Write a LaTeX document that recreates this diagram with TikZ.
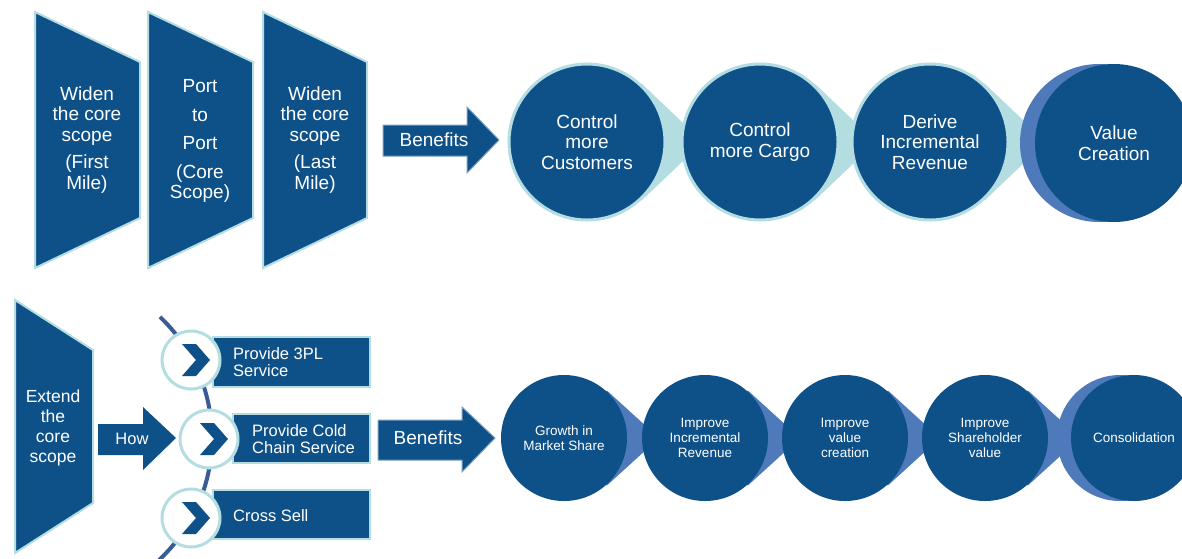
\documentclass[tikz,border=0pt]{standalone}
\usepackage{fontspec}
\setmainfont{Liberation Sans}
\definecolor{dblue}{RGB}{14,81,137}
\definecolor{lcyan}{RGB}{180,221,226}
\definecolor{mblue}{RGB}{78,122,188}
\definecolor{arcblue}{RGB}{58,92,150}
\tikzset{
  plate/.style={fill=dblue, draw=lcyan, line width=2pt},
  flow/.style={fill=dblue, draw=dblue!55!white, line width=1pt},
  big/.style={text=white, align=center, font=\fontsize{19}{20.5}\selectfont},
  topc/.style={circle, fill=dblue, draw=lcyan, line width=3pt, minimum size=156pt, inner sep=0pt, big},
  lowc/.style={circle, fill=dblue, minimum size=126pt, inner sep=0pt, text=white, align=center, font=\fontsize{13.5}{15}\selectfont},
  svc/.style={text=white, align=left, anchor=west, inner sep=0pt, font=\fontsize{16.5}{17}\selectfont},
  ring/.style={circle, fill=white, draw=lcyan, line width=3pt, minimum size=58pt, inner sep=0pt},
}
\begin{document}
\begin{tikzpicture}[x=1pt,y=-1pt]
\useasboundingbox (0,0) rectangle (1182,558);
%scope plates
\foreach \l/\r in {35/140,148/253,263/367}
  \draw[plate] (\l,12) -- (\r,62) -- (\r,218) -- (\l,268) -- cycle;
\node[big] (first) at (87,140) {Widen\\the core\\scope\\[7pt](First\\Mile)};
\node[big] (core) at (200,141) {Port\\[8pt]to\\[8pt]Port\\[8pt](Core\\Scope)};
\node[big] (last) at (315,140) {Widen\\the core\\scope\\[7pt](Last\\Mile)};
\draw[flow] (383,125) -- (467,125) -- (467,107) -- (499,140) -- (467,173) -- (467,156) -- (383,156) -- cycle;
\node[big] (ben1) at (434,140) {Benefits};
%top chain
\foreach \x in {587,760,930}
  \fill[lcyan] (\x,142) -- ++(-47:80) -- ({\x+116},142) -- ([shift={(47:80)}]\x,142) -- cycle;
\fill[mblue] (1099,143) circle[radius=79];
\node[topc] (cust) at (587,142) {Control\\more\\Customers};
\node[topc] (cargo) at (760,142) {Control\\more Cargo};
\node[topc] (rev) at (930,142) {Derive\\Incremental\\Revenue};
\node[topc, draw=none, minimum size=158pt] (value) at (1114,143) {Value\\Creation};
%extend scope
\draw[plate] (15,300) -- (93,350) -- (93,503) -- (15,553) -- cycle;
\node[big, font=\fontsize{17.5}{20}\selectfont] (ext) at (53,428) {Extend\\the\\core\\scope};
\coordinate (hub) at (45,438);
\draw[arcblue, line width=4pt] (hub) ++(-46.5:167) arc[start angle=-46.5, end angle=47, radius=167];
\fill[dblue] (98,424) -- (143,424) -- (143,407) -- (176,438) -- (143,470) -- (143,455) -- (98,455) -- cycle;
\node[big, font=\fontsize{16.5}{18}\selectfont] (how) at (132,439) {How};
\draw[plate] (213,337) rectangle (370,387);
\draw[plate] (233,414) rectangle (370,463);
\draw[plate] (213,490) rectangle (370,539);
\node[ring] (r3pl) at (191,360) {};
\node[ring] (rcold) at (209,439) {};
\node[ring] (rsell) at (191,518) {};
\foreach \n in {r3pl,rcold,rsell}
  \fill[dblue] ([shift={(-9,-16)}]\n.center) -- ++(14,0) -- ++(14,16) -- ++(-14,16) -- ++(-14,0) -- ++(14,-16) -- cycle;
\node[svc] (t3pl) at (233,362) {Provide 3PL\\Service};
\node[svc] (tcold) at (252,439) {Provide Cold\\Chain Service};
\node[svc] (tsell) at (233,516) {Cross Sell};
\draw[flow] (378,420) -- (462,420) -- (462,407) -- (495,438) -- (462,472) -- (462,460) -- (378,460) -- cycle;
\node[big] (ben2) at (428,438) {Benefits};
%lower chain
\foreach \x in {564,705,845,985}
  \fill[mblue] (\x,438) -- ++(-48:64) -- ({\x+95},438) -- ([shift={(48:64)}]\x,438) -- cycle;
\fill[mblue] (1120,438) circle[radius=63];
\node[lowc] (share) at (564,438) {Growth in\\Market Share};
\node[lowc] (incr) at (705,438) {Improve\\Incremental\\Revenue};
\node[lowc] (vcre) at (845,438) {Improve\\value\\creation};
\node[lowc] (shold) at (985,438) {Improve\\Shareholder\\value};
\node[lowc] (cons) at (1134,438) {Consolidation};
\end{tikzpicture}
\end{document}
